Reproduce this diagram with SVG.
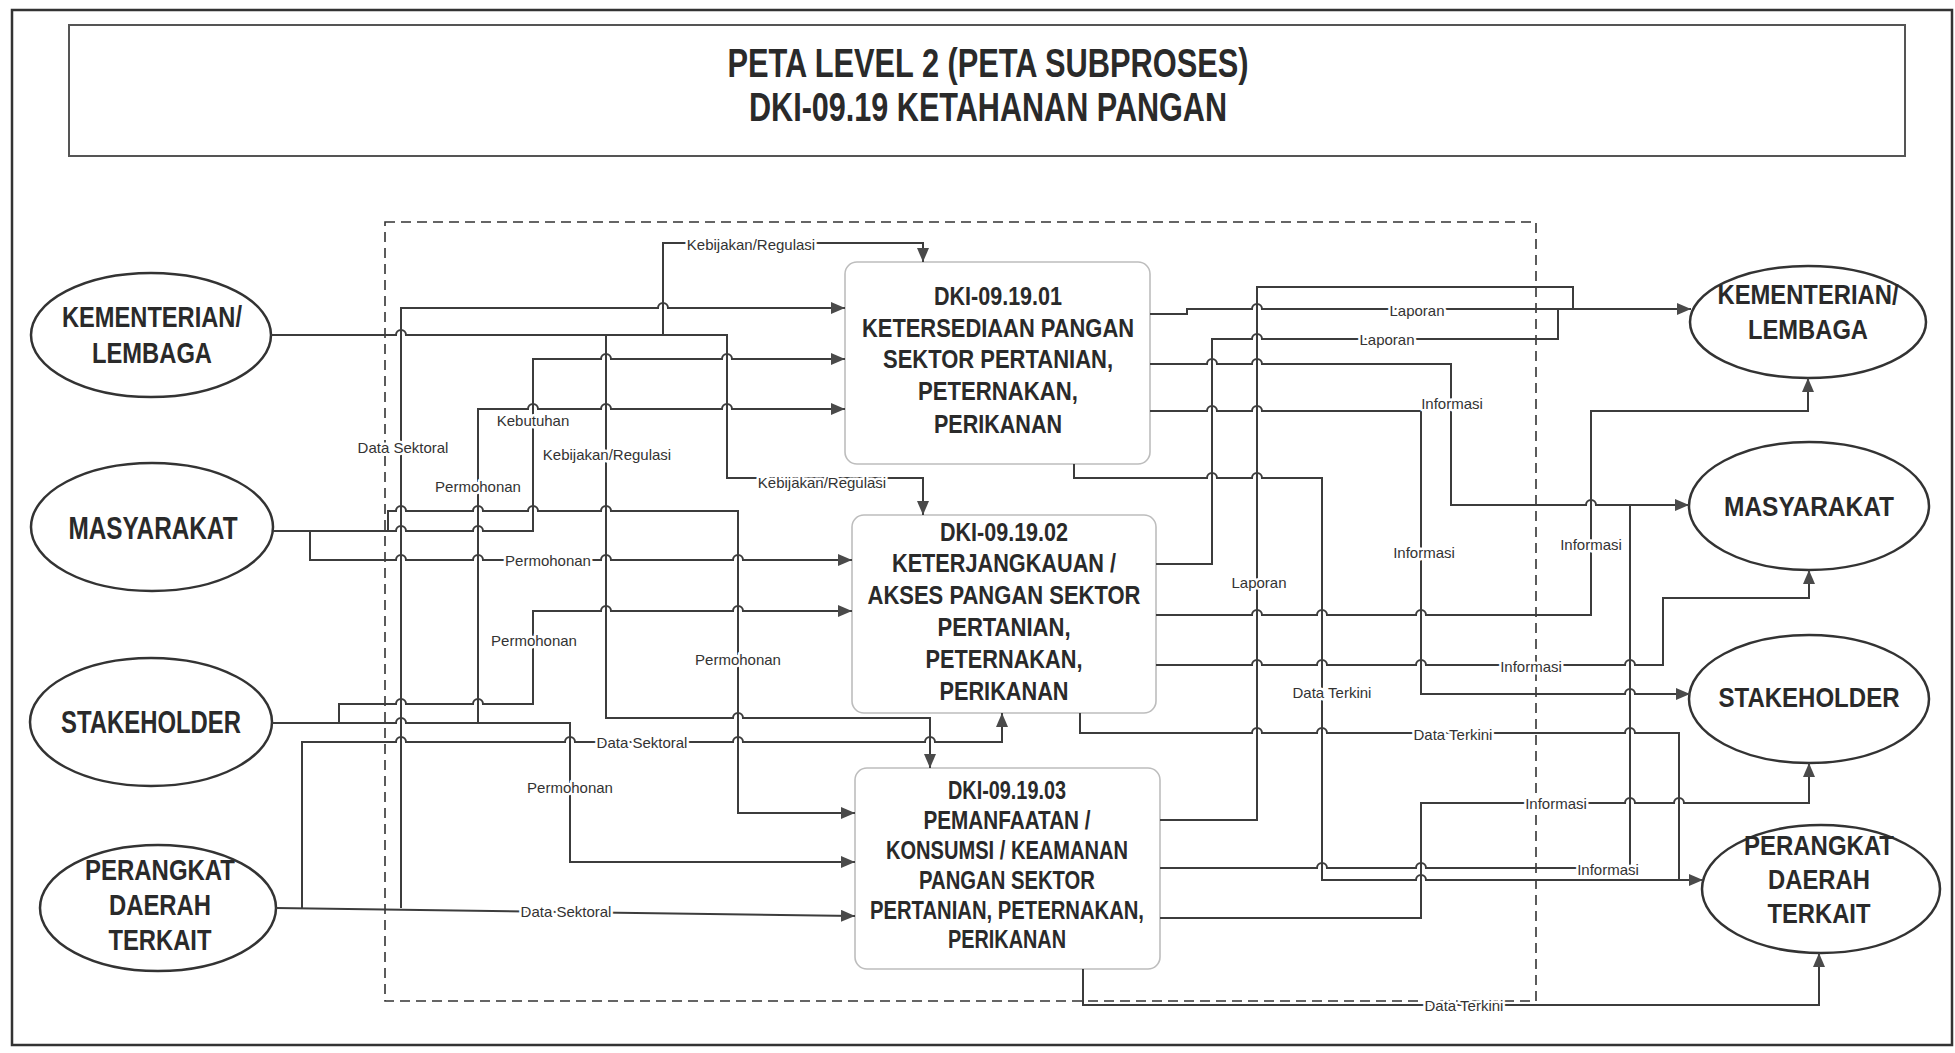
<svg xmlns="http://www.w3.org/2000/svg" width="1955" height="1053" viewBox="0 0 1955 1053">
<defs>
<marker id="arr" viewBox="0 0 14 12" refX="14" refY="6" markerWidth="14" markerHeight="12" markerUnits="userSpaceOnUse" orient="auto">
<path d="M0,0 L14,6 L0,12 z" fill="#4a4a4a"/>
</marker>
<style>
.ln{fill:none;stroke:#3c3c3c;stroke-width:2}
.ar{marker-end:url(#arr)}
.lbl{font-family:"Liberation Sans",Arial,sans-serif;font-size:15px;fill:#333;text-anchor:middle;dominant-baseline:central;stroke:#fff;stroke-width:5;paint-order:stroke;stroke-linejoin:round}
.nt{font-family:"Liberation Sans Narrow","Liberation Sans",Arial,sans-serif;font-weight:bold;fill:#2a2a2a;text-anchor:middle}
.rt{font-family:"Liberation Sans",Arial,sans-serif;font-weight:bold;fill:#2a2a2a;text-anchor:middle}
.el{fill:#fff;stroke:#333;stroke-width:2.5}
.box{fill:#fff;stroke:#bdbdbd;stroke-width:1.6}
</style>
</defs>
<rect width="1955" height="1053" fill="#fff"/>
<rect x="12" y="10" width="1940" height="1035" fill="none" stroke="#333" stroke-width="2.5"/>
<g id="title">
<rect x="69" y="25" width="1836" height="131" fill="#fff" stroke="#555" stroke-width="2"/>
<text class="nt" x="988" y="77" font-size="41" textLength="521" lengthAdjust="spacingAndGlyphs">PETA LEVEL 2 (PETA SUBPROSES)</text>
<text class="nt" x="988" y="121" font-size="41" textLength="478" lengthAdjust="spacingAndGlyphs">DKI-09.19 KETAHANAN PANGAN</text>
</g>
<rect id="boundary" x="385" y="222" width="1151" height="779" fill="none" stroke="#333" stroke-width="1.6" stroke-dasharray="10,6"/>

<g id="kementerian-left">
<ellipse class="el" cx="151" cy="335" rx="120" ry="62"/>
<text class="nt" x="152" y="327" font-size="30" textLength="180" lengthAdjust="spacingAndGlyphs">KEMENTERIAN/</text>
<text class="nt" x="152" y="363" font-size="30" textLength="120" lengthAdjust="spacingAndGlyphs">LEMBAGA</text>
</g>
<g id="masyarakat-left">
<ellipse class="el" cx="152" cy="527" rx="121" ry="64"/>
<text class="nt" x="153" y="539" font-size="31" textLength="169" lengthAdjust="spacingAndGlyphs">MASYARAKAT</text>
</g>
<g id="stakeholder-left">
<ellipse class="el" cx="151" cy="722" rx="121" ry="64"/>
<text class="nt" x="151" y="733" font-size="31" textLength="180" lengthAdjust="spacingAndGlyphs">STAKEHOLDER</text>
</g>
<g id="perangkat-left">
<ellipse class="el" cx="158" cy="908" rx="118" ry="63"/>
<text class="nt" x="160" y="880" font-size="30" textLength="150" lengthAdjust="spacingAndGlyphs">PERANGKAT</text>
<text class="nt" x="160" y="915" font-size="30" textLength="102" lengthAdjust="spacingAndGlyphs">DAERAH</text>
<text class="nt" x="160" y="950" font-size="30" textLength="103" lengthAdjust="spacingAndGlyphs">TERKAIT</text>
</g>

<g id="box-01">
<rect class="box" x="845" y="262" width="305" height="202" rx="12"/>
<text class="nt" x="998" y="305" font-size="26" textLength="128" lengthAdjust="spacingAndGlyphs">DKI-09.19.01</text>
<text class="nt" x="998" y="337" font-size="26" textLength="272" lengthAdjust="spacingAndGlyphs">KETERSEDIAAN PANGAN</text>
<text class="nt" x="998" y="368" font-size="26" textLength="230" lengthAdjust="spacingAndGlyphs">SEKTOR PERTANIAN,</text>
<text class="nt" x="998" y="400" font-size="26" textLength="160" lengthAdjust="spacingAndGlyphs">PETERNAKAN,</text>
<text class="nt" x="998" y="433" font-size="26" textLength="128" lengthAdjust="spacingAndGlyphs">PERIKANAN</text>
</g>
<g id="box-02">
<rect class="box" x="852" y="515" width="304" height="198" rx="12"/>
<text class="nt" x="1004" y="541" font-size="26" textLength="128" lengthAdjust="spacingAndGlyphs">DKI-09.19.02</text>
<text class="nt" x="1004" y="572" font-size="26" textLength="224" lengthAdjust="spacingAndGlyphs">KETERJANGKAUAN /</text>
<text class="nt" x="1004" y="604" font-size="26" textLength="273" lengthAdjust="spacingAndGlyphs">AKSES PANGAN SEKTOR</text>
<text class="nt" x="1004" y="636" font-size="26" textLength="133" lengthAdjust="spacingAndGlyphs">PERTANIAN,</text>
<text class="nt" x="1004" y="668" font-size="26" textLength="157" lengthAdjust="spacingAndGlyphs">PETERNAKAN,</text>
<text class="nt" x="1004" y="700" font-size="26" textLength="129" lengthAdjust="spacingAndGlyphs">PERIKANAN</text>
</g>
<g id="box-03">
<rect class="box" x="855" y="768" width="305" height="201" rx="12"/>
<text class="nt" x="1007" y="799" font-size="25" textLength="118" lengthAdjust="spacingAndGlyphs">DKI-09.19.03</text>
<text class="nt" x="1007" y="829" font-size="25" textLength="167" lengthAdjust="spacingAndGlyphs">PEMANFAATAN /</text>
<text class="nt" x="1007" y="859" font-size="25" textLength="242" lengthAdjust="spacingAndGlyphs">KONSUMSI / KEAMANAN</text>
<text class="nt" x="1007" y="889" font-size="25" textLength="176" lengthAdjust="spacingAndGlyphs">PANGAN SEKTOR</text>
<text class="nt" x="1007" y="919" font-size="25" textLength="274" lengthAdjust="spacingAndGlyphs">PERTANIAN, PETERNAKAN,</text>
<text class="nt" x="1007" y="948" font-size="25" textLength="118" lengthAdjust="spacingAndGlyphs">PERIKANAN</text>
</g>

<g id="kementerian-right">
<ellipse class="el" cx="1808" cy="322" rx="118" ry="56"/>
<text class="rt" x="1808" y="304" font-size="27" textLength="181" lengthAdjust="spacingAndGlyphs">KEMENTERIAN/</text>
<text class="rt" x="1808" y="339" font-size="27" textLength="120" lengthAdjust="spacingAndGlyphs">LEMBAGA</text>
</g>
<g id="masyarakat-right">
<ellipse class="el" cx="1809" cy="506" rx="120" ry="64"/>
<text class="rt" x="1809" y="516" font-size="27" textLength="170" lengthAdjust="spacingAndGlyphs">MASYARAKAT</text>
</g>
<g id="stakeholder-right">
<ellipse class="el" cx="1809" cy="699" rx="120" ry="64"/>
<text class="rt" x="1809" y="707" font-size="27" textLength="181" lengthAdjust="spacingAndGlyphs">STAKEHOLDER</text>
</g>
<g id="perangkat-right">
<ellipse class="el" cx="1821" cy="889" rx="119" ry="64"/>
<text class="rt" x="1819" y="855" font-size="27" textLength="150" lengthAdjust="spacingAndGlyphs">PERANGKAT</text>
<text class="rt" x="1819" y="889" font-size="27" textLength="102" lengthAdjust="spacingAndGlyphs">DAERAH</text>
<text class="rt" x="1819" y="923" font-size="27" textLength="103" lengthAdjust="spacingAndGlyphs">TERKAIT</text>
</g>

<g id="connectors">
<path class="ln ar" d="M271,335 H396 a5,5 0 0 1 10,0 H727 V478 H923 V515"/>
<path class="ln ar" d="M663,335 V243 H923 V262"/>
<path class="ln ar" d="M606,335 V718 H733 a5,5 0 0 1 10,0 H930 V768"/>
<path class="ln ar" d="M276,908 L855,916"/>
<path class="ln ar" d="M302,908 V742 H396 a5,5 0 0 1 10,0 H565 a5,5 0 0 1 10,0 H733 a5,5 0 0 1 10,0 H925 a5,5 0 0 1 10,0 H1002 V713"/>
<path class="ln ar" d="M401,908 V308 H658 a5,5 0 0 1 10,0 H845"/>
<path class="ln ar" d="M273,531 H396 a5,5 0 0 1 10,0 H473 a5,5 0 0 1 10,0 H533 V359 H601 a5,5 0 0 1 10,0 H722 a5,5 0 0 1 10,0 H845"/>
<path class="ln ar" d="M310,531 V560 H396 a5,5 0 0 1 10,0 H473 a5,5 0 0 1 10,0 H601 a5,5 0 0 1 10,0 H733 a5,5 0 0 1 10,0 H852"/>
<path class="ln ar" d="M388,531 V511 H396 a5,5 0 0 1 10,0 H473 a5,5 0 0 1 10,0 H528 a5,5 0 0 1 10,0 H601 a5,5 0 0 1 10,0 H738 V813 H855"/>
<path class="ln ar" d="M272,723 H396 a5,5 0 0 1 10,0 H570 V862 H855"/>
<path class="ln ar" d="M339,723 V704 H396 a5,5 0 0 1 10,0 H473 a5,5 0 0 1 10,0 H533 V611 H601 a5,5 0 0 1 10,0 H733 a5,5 0 0 1 10,0 H852"/>
<path class="ln ar" d="M478,723 V409 H528 a5,5 0 0 1 10,0 H601 a5,5 0 0 1 10,0 H722 a5,5 0 0 1 10,0 H845"/>

<path class="ln ar" d="M1150,314 H1187 V309 H1252 a5,5 0 0 1 10,0 H1691"/>
<path class="ln ar" d="M1150,364 H1207 a5,5 0 0 1 10,0 H1252 a5,5 0 0 1 10,0 H1451 V505 H1586 a5,5 0 0 1 10,0 H1689"/>
<path class="ln ar" d="M1150,411 H1207 a5,5 0 0 1 10,0 H1252 a5,5 0 0 1 10,0 H1421 V694 H1625 a5,5 0 0 1 10,0 H1690"/>
<path class="ln ar" d="M1074,464 V478 H1207 a5,5 0 0 1 10,0 H1252 a5,5 0 0 1 10,0 H1322 V880 H1416 a5,5 0 0 1 10,0 H1703"/>
<path class="ln" d="M1156,564 H1212 V339 H1252 a5,5 0 0 1 10,0 H1558 V309"/>
<path class="ln ar" d="M1156,615 H1252 a5,5 0 0 1 10,0 H1317 a5,5 0 0 1 10,0 H1416 a5,5 0 0 1 10,0 H1591 V411 H1808 V378"/>
<path class="ln ar" d="M1156,665 H1252 a5,5 0 0 1 10,0 H1317 a5,5 0 0 1 10,0 H1416 a5,5 0 0 1 10,0 H1625 a5,5 0 0 1 10,0 H1663 V598 H1809 V570"/>
<path class="ln" d="M1080,713 V733 H1252 a5,5 0 0 1 10,0 H1317 a5,5 0 0 1 10,0 H1625 a5,5 0 0 1 10,0 H1679 V880"/>
<path class="ln" d="M1160,820 H1257 V287 H1573 V309"/>
<path class="ln" d="M1160,868 H1317 a5,5 0 0 1 10,0 H1416 a5,5 0 0 1 10,0 H1630 V505"/>
<path class="ln ar" d="M1160,918 H1421 V803 H1625 a5,5 0 0 1 10,0 H1674 a5,5 0 0 1 10,0 H1809 V763"/>
<path class="ln ar" d="M1083,969 V1005 H1819 V953"/>
</g>

<g id="labels">
<text class="lbl" x="751" y="244">Kebijakan/Regulasi</text>
<text class="lbl" x="403" y="447">Data Sektoral</text>
<text class="lbl" x="533" y="420">Kebutuhan</text>
<text class="lbl" x="607" y="454">Kebijakan/Regulasi</text>
<text class="lbl" x="478" y="486">Permohonan</text>
<text class="lbl" x="822" y="482">Kebijakan/Regulasi</text>
<text class="lbl" x="548" y="560">Permohonan</text>
<text class="lbl" x="534" y="640">Permohonan</text>
<text class="lbl" x="738" y="659">Permohonan</text>
<text class="lbl" x="642" y="742">Data Sektoral</text>
<text class="lbl" x="570" y="787">Permohonan</text>
<text class="lbl" x="566" y="911">Data Sektoral</text>
<text class="lbl" x="1417" y="310">Laporan</text>
<text class="lbl" x="1387" y="339">Laporan</text>
<text class="lbl" x="1452" y="403">Informasi</text>
<text class="lbl" x="1424" y="552">Informasi</text>
<text class="lbl" x="1259" y="582">Laporan</text>
<text class="lbl" x="1591" y="544">Informasi</text>
<text class="lbl" x="1531" y="666">Informasi</text>
<text class="lbl" x="1332" y="692">Data Terkini</text>
<text class="lbl" x="1453" y="734">Data Terkini</text>
<text class="lbl" x="1556" y="803">Informasi</text>
<text class="lbl" x="1608" y="869">Informasi</text>
<text class="lbl" x="1464" y="1005">Data Terkini</text>
</g>
</svg>
